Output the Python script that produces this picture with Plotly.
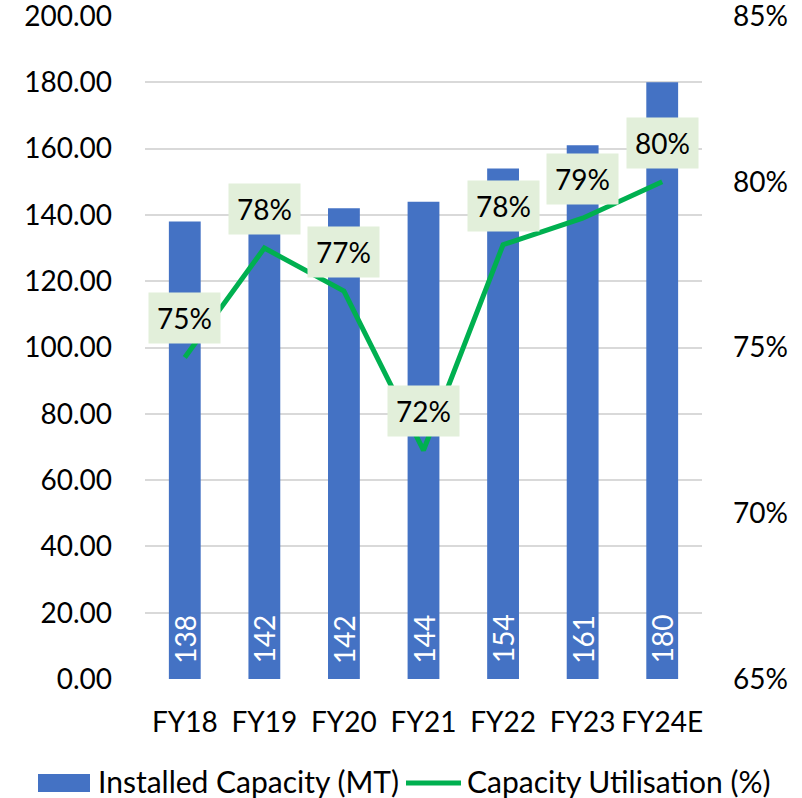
import plotly.graph_objects as go

categories = ["FY18", "FY19", "FY20", "FY21", "FY22", "FY23", "FY24E"]
capacity = [138, 142, 142, 144, 154, 161, 180]
utilisation = [74.7, 78.0, 76.7, 71.9, 78.1, 78.9, 80.0]
left_ticks = [0, 20, 40, 60, 80, 100, 120, 140, 160, 180, 200]
right_ticks = [65, 70, 75, 80, 85]

FONT = "Lato"
FS = 28
BLUE = "#4472C4"
GREEN = "#00B050"
LABEL_BG = "#E2EFDA"

W, H = 802, 798
L, R, T, B = 145, 100, 16, 119
PW, PH = W - L - R, H - T - B

def px_x(px):
    return (px - L) / PW

def px_y(py):
    return (H - B - py) / PH

fig = go.Figure()
fig.add_trace(go.Bar(
    x=categories, y=capacity, name="Installed Capacity (MT)",
    marker=dict(color=BLUE, line=dict(width=0)), width=0.4,
    showlegend=False, yaxis="y",
))
fig.add_trace(go.Scatter(
    x=categories, y=utilisation, name="Capacity Utilisation (%)",
    mode="lines", line=dict(color=GREEN, width=5),
    showlegend=False, yaxis="y2", cliponaxis=False,
))

annotations = []
# bar value labels (white, rotated, at the base of each bar)
for c, v in zip(categories, capacity):
    annotations.append(dict(
        x=c, y=0, xref="x", yref="y", text=str(v), textangle=-90,
        showarrow=False, xanchor="center", yanchor="middle", yshift=40,
        font=dict(family=FONT, size=FS, color="white"),
    ))
# line value labels
for c, u in zip(categories, utilisation):
    annotations.append(dict(
        x=c, y=u, xref="x", yref="y2", text=f"{round(u)}%",
        showarrow=False, yshift=39, bgcolor=LABEL_BG, borderpad=8,
        font=dict(family=FONT, size=FS, color="#000000"),
    ))

# custom legend
annotations.append(dict(x=px_x(96), y=px_y(781), xref="paper", yref="paper",
                        text="Installed Capacity (MT)", showarrow=False,
                        xanchor="left", yanchor="middle",
                        font=dict(family=FONT, size=30, color="#000000")))
annotations.append(dict(x=px_x(465), y=px_y(781), xref="paper", yref="paper",
                        text="Capacity Utilisation (%)", showarrow=False,
                        xanchor="left", yanchor="middle",
                        font=dict(family=FONT, size=30, color="#000000")))
shapes = [
    dict(type="rect", xref="paper", yref="paper",
         x0=px_x(38), x1=px_x(90), y0=px_y(792), y1=px_y(774),
         fillcolor=BLUE, line=dict(width=0)),
    dict(type="line", xref="paper", yref="paper",
         x0=px_x(406), x1=px_x(461), y0=px_y(783), y1=px_y(783),
         line=dict(color=GREEN, width=5)),
]

fig.update_layout(
    width=W, height=H,
    margin=dict(l=L, r=R, t=T, b=B, pad=0),
    paper_bgcolor="white", plot_bgcolor="white",
    font=dict(family=FONT, size=FS, color="#000000"),
    xaxis=dict(showgrid=False, showline=False, ticks="", ticklabelstandoff=24,
               automargin=False,
               tickfont=dict(family=FONT, size=FS, color="#000000")),
    yaxis=dict(range=[0, 200], tickvals=left_ticks,
               ticktext=[f"{v:.2f}" for v in left_ticks],
               showgrid=True, gridcolor="#D9D9D9", gridwidth=1.5,
               zeroline=False, showline=False, ticks="", ticklabelstandoff=32,
               automargin=False, ticklabeloverflow="allow",
               tickfont=dict(family=FONT, size=FS, color="#000000")),
    yaxis2=dict(range=[65, 85], tickvals=right_ticks,
                ticktext=[f"{v}%" for v in right_ticks],
                overlaying="y", side="right", showgrid=False, zeroline=False,
                showline=False, ticks="", ticklabelstandoff=30,
                automargin=False, ticklabeloverflow="allow",
                tickfont=dict(family=FONT, size=FS, color="#000000")),
    annotations=annotations, shapes=shapes,
    showlegend=False,
)

fig.write_html("out.html", config={"displayModeBar": False},
               post_script="document.body.style.margin='0';document.body.style.padding='0';")
